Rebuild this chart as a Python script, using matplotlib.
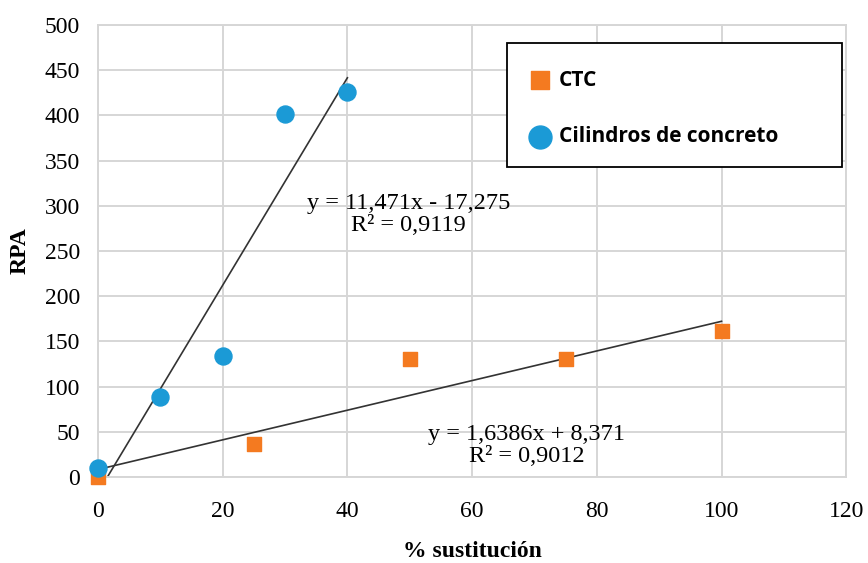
import matplotlib
matplotlib.use("Agg")
import matplotlib.pyplot as plt
from matplotlib.patches import Rectangle
import numpy as np

# data
ctc_x = [0, 25, 50, 75, 100]
ctc_y = [0, 36, 130, 130, 162]
cil_x = [0, 10, 20, 30, 40]
cil_y = [10, 89, 134, 401, 426]

# trend lines as printed on the chart
cil_fit = (11.471, -17.275)
ctc_fit = (1.6386, 8.371)

ORANGE = "#f47a20"
BLUE = "#1b9ad6"
GRID = "#d6d6d6"
SERIF = "Liberation Serif"

fig = plt.figure(figsize=(8.68, 5.63), dpi=100)
ax = fig.add_axes([0.1129, 0.1527, 0.862, 0.803])

ax.set_xlim(0, 120)
ax.set_ylim(0, 500)
ax.set_xticks(np.arange(0, 121, 20))
ax.set_yticks(np.arange(0, 501, 50))
ax.grid(True, color=GRID, lw=1.4)
ax.set_axisbelow(True)
for s in ax.spines.values():
    s.set_color(GRID)
    s.set_linewidth(1.4)
ax.tick_params(length=0, labelsize=17)
ax.tick_params(axis="x", pad=17)
ax.tick_params(axis="y", pad=13)
for lab in ax.get_xticklabels() + ax.get_yticklabels():
    lab.set_fontfamily(SERIF)

# trend lines (blue one starts where it crosses zero)
x0 = -cil_fit[1] / cil_fit[0]
xs = np.array([x0, max(cil_x)])
ax.plot(xs, cil_fit[0] * xs + cil_fit[1], color="#333333", lw=1.2, zorder=2)
xs = np.array([0, max(ctc_x)])
ax.plot(xs, ctc_fit[0] * xs + ctc_fit[1], color="#333333", lw=1.2, zorder=2)

ax.scatter(ctc_x, ctc_y, marker="s", s=100, color=ORANGE, label="CTC",
           zorder=3, clip_on=False)
ax.scatter(cil_x, cil_y, marker="o", s=150, color=BLUE,
           label="Cilindros de concreto", zorder=3, clip_on=False)

ax.text(49.8, 290, "y = 11,471x - 17,275\nR² = 0,9119", ha="center",
        va="center", fontsize=17.5, family=SERIF, linespacing=1.05)
ax.text(68.7, 35, "y = 1,6386x + 8,371\nR² = 0,9012", ha="center",
        va="center", fontsize=17.5, family=SERIF, linespacing=1.05)

ax.set_xlabel("% sustitución", fontsize=17, fontweight="bold",
              family=SERIF, labelpad=14)
ax.set_ylabel("RPA", fontsize=17, fontweight="bold", family=SERIF,
              labelpad=10)

# legend box is wider than its content, so draw the frame separately
ax.add_patch(Rectangle((0.547, 0.686), 0.4477, 0.274, transform=ax.transAxes,
                       facecolor="white", edgecolor="black", lw=1.3,
                       zorder=4, clip_on=False))
leg = ax.legend(loc="center left", bbox_to_anchor=(0.573, 0.815),
                frameon=False, borderpad=0, borderaxespad=0,
                labelspacing=1.7, handletextpad=0.25, handlelength=1.3,
                markerscale=1.35,
                prop={"family": "Open Sans", "weight": "bold", "size": 15})
leg.set_zorder(5)

fig.savefig("out.png", dpi=100)
